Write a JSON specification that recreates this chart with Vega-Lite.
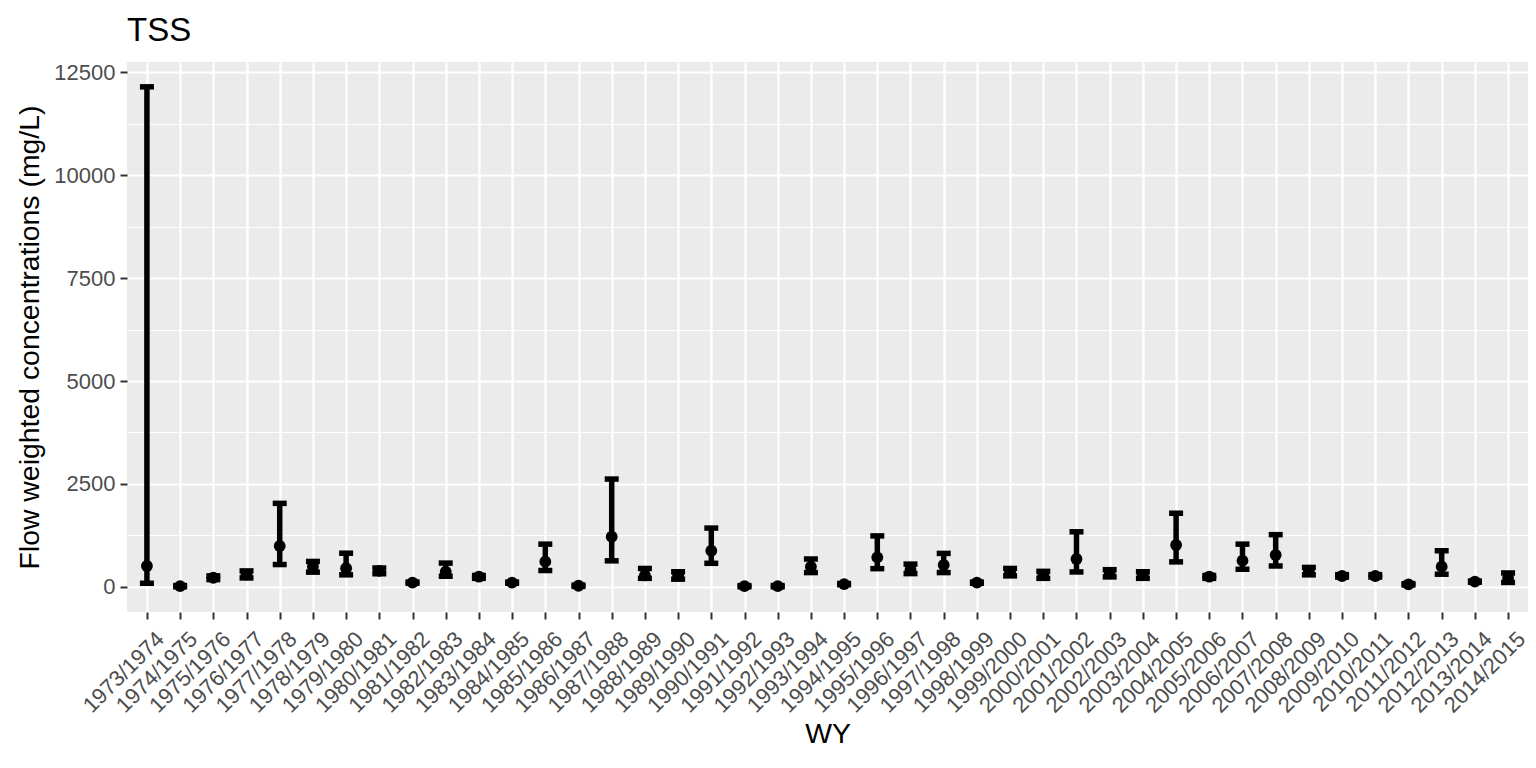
{
  "$schema": "https://vega.github.io/schema/vega-lite/v6.json",
  "width": 1401,
  "height": 550,
  "autosize": {"type": "none"},
  "padding": {"left": 127, "top": 62, "right": 8, "bottom": 156},
  "background": "white",
  "title": {"text": "TSS", "anchor": "start", "frame": "group", "fontSize": 33, "font": "Liberation Sans", "fontWeight": "normal", "color": "black", "baseline": "alphabetic", "offset": 22, "dy": 35},
  "config": {
    "view": {"fill": "#EBEBEB", "stroke": null},
    "axis": {
      "labelFont": "Liberation Sans", "labelFontSize": 22, "labelColor": "#4D4D4D",
      "titleFont": "Liberation Sans", "titleFontSize": 28.4, "titleFontWeight": "normal", "titleColor": "black",
      "tickColor": "#333333", "tickSize": 7, "tickWidth": 2, "domain": false,
      "gridColor": "white", "gridWidth": 2.2, "gridOpacity": 1
    }
  },
  "data": {"values": [
    {"WY": "1973/1974", "mean": 510, "lower": 90, "upper": 12140},
    {"WY": "1974/1975", "mean": 20, "lower": 5, "upper": 35},
    {"WY": "1975/1976", "mean": 225, "lower": 180, "upper": 270},
    {"WY": "1976/1977", "mean": 300, "lower": 220, "upper": 390},
    {"WY": "1977/1978", "mean": 995, "lower": 545, "upper": 2030},
    {"WY": "1978/1979", "mean": 490, "lower": 360, "upper": 620},
    {"WY": "1979/1980", "mean": 455, "lower": 295, "upper": 820},
    {"WY": "1980/1981", "mean": 390, "lower": 320, "upper": 460},
    {"WY": "1981/1982", "mean": 105, "lower": 90, "upper": 120},
    {"WY": "1982/1983", "mean": 370, "lower": 260, "upper": 580},
    {"WY": "1983/1984", "mean": 250, "lower": 210, "upper": 280},
    {"WY": "1984/1985", "mean": 105, "lower": 90, "upper": 120},
    {"WY": "1985/1986", "mean": 615, "lower": 400, "upper": 1040},
    {"WY": "1986/1987", "mean": 30, "lower": 15, "upper": 45},
    {"WY": "1987/1988", "mean": 1220, "lower": 635, "upper": 2620},
    {"WY": "1988/1989", "mean": 280, "lower": 210, "upper": 450},
    {"WY": "1989/1990", "mean": 280, "lower": 190, "upper": 370},
    {"WY": "1990/1991", "mean": 880, "lower": 575, "upper": 1430},
    {"WY": "1991/1992", "mean": 20, "lower": 5, "upper": 35},
    {"WY": "1992/1993", "mean": 20, "lower": 5, "upper": 35},
    {"WY": "1993/1994", "mean": 490, "lower": 350, "upper": 680},
    {"WY": "1994/1995", "mean": 70, "lower": 55, "upper": 85},
    {"WY": "1995/1996", "mean": 720, "lower": 445, "upper": 1240},
    {"WY": "1996/1997", "mean": 420, "lower": 325, "upper": 555},
    {"WY": "1997/1998", "mean": 534, "lower": 350, "upper": 815},
    {"WY": "1998/1999", "mean": 105, "lower": 90, "upper": 120},
    {"WY": "1999/2000", "mean": 360, "lower": 270, "upper": 450},
    {"WY": "2000/2001", "mean": 290, "lower": 210, "upper": 380},
    {"WY": "2001/2002", "mean": 680, "lower": 365, "upper": 1340},
    {"WY": "2002/2003", "mean": 330, "lower": 245, "upper": 420},
    {"WY": "2003/2004", "mean": 290, "lower": 210, "upper": 370},
    {"WY": "2004/2005", "mean": 1020, "lower": 610, "upper": 1790},
    {"WY": "2005/2006", "mean": 250, "lower": 210, "upper": 280},
    {"WY": "2006/2007", "mean": 640, "lower": 430, "upper": 1040},
    {"WY": "2007/2008", "mean": 776, "lower": 510, "upper": 1270},
    {"WY": "2008/2009", "mean": 390, "lower": 295, "upper": 475},
    {"WY": "2009/2010", "mean": 267, "lower": 240, "upper": 300},
    {"WY": "2010/2011", "mean": 267, "lower": 240, "upper": 300},
    {"WY": "2011/2012", "mean": 65, "lower": 50, "upper": 80},
    {"WY": "2012/2013", "mean": 493, "lower": 310, "upper": 880},
    {"WY": "2013/2014", "mean": 130, "lower": 115, "upper": 145},
    {"WY": "2014/2015", "mean": 220, "lower": 110, "upper": 340}
  ]},
  "encoding": {
    "x": {
      "field": "WY", "type": "ordinal", "sort": null,
      "scale": {"type": "point", "padding": 0.6},
      "axis": {"title": "WY", "grid": true, "labelAngle": -45, "labelAlign": "right", "labelBaseline": "top", "labelPadding": 9, "labelOffset": 6, "titlePadding": 4}
    }
  },
  "layer": [
    {
      "mark": {"type": "rule", "color": "black", "strokeWidth": 5.5},
      "encoding": {
        "y": {
          "field": "lower", "type": "quantitative",
          "scale": {"domain": [-607, 12743], "nice": false, "zero": false},
          "axis": {
            "title": "Flow weighted concentrations (mg/L)",
            "values": [0, 1250, 2500, 3750, 5000, 6250, 7500, 8750, 10000, 11250, 12500],
            "format": "d",
            "labelExpr": "datum.value % 2500 === 0 ? datum.label : ''",
            "gridWidth": {"condition": {"test": "datum.value % 2500 === 0", "value": 2.2}, "value": 1.1},
            "tickOpacity": {"condition": {"test": "datum.value % 2500 === 0", "value": 1}, "value": 0},
            "labelPadding": 5, "titlePadding": 9
          }
        },
        "y2": {"field": "upper"}
      }
    },
    {
      "mark": {"type": "tick", "orient": "horizontal", "color": "black", "size": 14, "thickness": 5.5, "opacity": 1},
      "encoding": {"y": {"field": "upper", "type": "quantitative"}}
    },
    {
      "mark": {"type": "tick", "orient": "horizontal", "color": "black", "size": 14, "thickness": 5.5, "opacity": 1},
      "encoding": {"y": {"field": "lower", "type": "quantitative"}}
    },
    {
      "mark": {"type": "circle", "color": "black", "size": 140, "opacity": 1},
      "encoding": {"y": {"field": "mean", "type": "quantitative"}}
    }
  ]
}
